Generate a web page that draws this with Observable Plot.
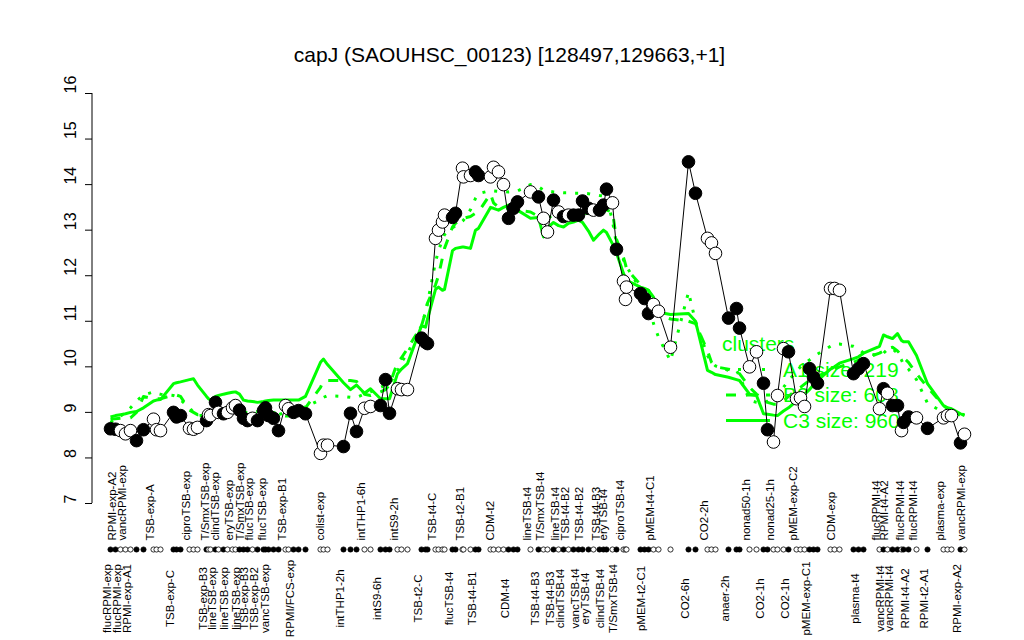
<!DOCTYPE html>
<html>
<head>
<meta charset="utf-8">
<script src="https://cdn.jsdelivr.net/npm/d3@7"></script>
<script src="https://cdn.jsdelivr.net/npm/@observablehq/plot@0.6"></script>
<style>
  html, body { margin: 0; padding: 0; background: #fff; }
  #chart { width: 1024px; height: 640px; }
  svg { font-family: "Liberation Sans", Arial, Helvetica, sans-serif; }
</style>
</head>
<body>
<div id="chart"></div>
<script>
const title = "capJ (SAOUHSC_00123) [128497,129663,+1]";

// position of each condition along the condition axis (data units)
const pos = [0,1,2,3,4,5.2,6.6,8.6,9.2,10,12.6,13.2,14,15.8,16.6,17.4,19.2,19.6,20,21,21.6,22.6,23.4,24.4,25,25.8,26.6,27.4,28.4,29.4,30.6,31,31.6,32.6,33.6,35,35.6,36.6,37.6,39,42,42.6,43.4,46.6,48,49.2,50.8,52,54,55,55.8,57.4,58.2,59.4,62.2,63,63.4,65,65.6,66.4,66.8,68.4,69,70.4,70.6,72,73,73.6,76,76.6,77.6,78.6,79.6,80.6,81.4,84,85.6,86.6,87.4,88.6,89.6,90.6,91.6,92.6,93.6,94.4,95.6,96.6,97.8,98.6,99.2,100.4,101.2,102.6,103,103.2,106,106.8,107.6,108.6,109.6,112,115.6,117,119.4,120.2,121,123.6,125.2,125.8,127.8,129.2,130.6,131.4,132.6,133.4,134.6,135.6,137.2,138,138.8,139.8,140.6,141.4,144,144.8,145.8,148.6,149.6,150.6,153.8,154.6,155.4,156.4,157.4,158.2,158.6,159.6,161.2,163.4,166.6,167.4,168.2,170,170.8];

// expression value of capJ in each condition
const expr = [8.64,8.63,8.60,8.53,8.60,8.38,8.62,8.85,8.62,8.60,9.00,8.90,8.93,8.65,8.63,8.67,8.82,8.95,8.93,9.22,9.00,8.97,9.00,9.10,9.15,9.05,8.87,8.82,8.87,8.82,9.04,9.10,8.93,8.87,8.60,9.15,9.08,9.00,9.04,8.97,8.10,8.28,8.28,8.25,8.98,8.58,9.09,9.13,9.15,9.72,8.98,9.52,9.50,9.50,10.63,10.54,10.51,12.82,13.00,13.18,13.33,13.28,13.37,14.36,14.17,14.20,14.28,14.20,14.17,14.38,14.28,14.00,13.26,13.48,13.62,13.84,13.73,13.26,12.96,13.66,13.40,13.30,13.33,13.33,13.33,13.64,13.48,13.44,13.44,13.55,13.90,13.60,12.58,11.88,11.48,11.75,11.61,11.50,11.17,11.37,11.22,10.43,14.50,13.81,12.82,12.72,12.49,11.07,11.28,10.85,10.00,10.33,9.64,8.62,8.35,9.37,10.40,10.33,9.30,9.32,9.13,9.96,9.77,9.64,11.72,11.72,11.68,9.85,9.96,10.07,9.08,9.52,9.42,9.15,9.15,8.60,8.78,8.90,8.88,8.65,8.88,8.93,8.93,8.33,8.52];

// 1 = filled marker, 0 = open marker
const filled = [1,1,0,0,0,1,1,0,0,0,1,1,1,0,0,0,1,0,0,1,0,1,0,0,0,1,1,1,0,1,1,1,1,1,1,0,0,1,1,1,0,0,0,1,1,1,0,0,1,1,1,0,0,0,1,1,1,0,0,0,0,1,1,0,0,0,1,1,0,0,0,0,1,1,1,0,1,0,0,1,0,1,0,1,1,1,1,0,1,1,1,0,1,0,0,0,1,1,1,0,0,0,1,1,0,0,0,1,1,1,0,0,1,1,0,0,0,1,0,0,0,1,1,1,0,0,0,1,1,1,0,1,0,1,1,0,1,1,0,1,0,0,0,1,0];

// cluster mean profiles
const clusterA1 = [8.78,8.85,8.92,9.00,9.10,9.25,9.38,9.45,9.42,9.40,9.37,9.35,9.28,9.10,9.00,8.92,8.95,9.00,9.02,9.05,9.05,9.03,9.05,9.08,9.10,9.05,9.00,9.00,9.02,9.02,9.05,9.05,9.03,9.00,8.95,9.00,9.02,9.05,9.08,9.12,9.28,9.33,9.37,9.35,9.33,9.33,9.40,9.45,9.55,9.60,9.63,9.90,10.10,10.30,10.90,11.20,11.40,12.30,12.55,12.80,12.90,13.05,13.10,13.20,13.22,13.45,13.70,13.80,13.87,13.86,13.85,13.85,13.84,13.85,13.86,14.00,13.95,13.88,13.86,13.84,13.83,13.82,13.82,13.81,13.81,13.81,13.80,13.78,13.76,13.75,13.73,13.20,12.70,12.35,12.25,12.20,11.70,11.62,11.55,10.95,10.65,10.13,11.64,11.00,10.25,10.10,10.02,9.92,9.92,9.80,9.27,9.22,9.20,9.25,9.32,9.40,9.55,9.70,9.90,10.00,10.08,10.15,10.22,10.28,10.45,10.50,10.50,10.45,10.40,10.30,10.25,10.30,10.38,10.40,10.30,10.15,10.05,9.95,9.72,9.20,9.00,8.98,8.96,8.95,8.95];
const clusterB2 = [8.85,8.86,8.87,8.87,8.88,9.00,9.35,9.30,9.30,9.30,9.38,9.38,9.35,9.05,9.00,8.95,8.95,8.97,9.00,9.00,9.02,9.00,9.00,9.02,9.05,9.00,8.95,8.95,8.97,8.98,9.00,9.00,9.00,9.00,8.95,8.92,8.92,8.95,9.00,9.10,9.55,9.70,9.70,9.70,9.70,9.68,9.40,9.37,9.45,9.50,9.60,10.10,10.20,10.40,10.90,11.20,11.40,11.80,12.00,12.40,12.60,13.07,13.15,13.26,13.26,13.30,13.37,13.40,13.80,13.60,13.50,13.48,13.48,13.46,13.44,13.40,13.30,13.20,13.25,13.35,13.33,13.33,13.33,13.33,13.35,13.37,13.37,13.40,13.42,13.44,13.44,13.40,12.80,12.40,12.25,12.15,11.80,11.72,11.68,11.45,11.15,11.05,11.00,10.95,10.35,10.10,10.00,9.95,9.92,9.85,9.55,9.40,9.30,9.22,9.18,9.18,9.25,9.35,9.50,9.55,9.62,9.70,9.75,9.80,9.90,9.95,10.00,10.10,10.15,10.18,10.30,10.35,10.40,10.43,10.35,10.25,10.20,10.10,9.85,9.55,9.15,9.08,9.05,8.97,8.95];
const clusterC3 = [8.90,8.93,8.95,8.97,9.00,9.02,9.10,9.25,9.27,9.28,9.63,9.65,9.67,9.72,9.74,9.60,9.35,9.30,9.27,9.35,9.37,9.40,9.42,9.44,9.45,9.40,9.27,9.25,9.24,9.22,9.24,9.25,9.26,9.27,9.27,9.27,9.27,9.27,9.27,9.35,10.10,10.17,10.05,9.65,9.50,9.60,9.42,9.52,9.30,9.30,9.30,9.85,9.95,10.07,10.90,10.87,11.05,11.70,11.75,11.68,11.70,12.55,12.60,12.63,12.63,12.60,13.00,13.04,13.50,13.48,13.44,13.50,13.55,13.48,13.44,13.26,13.28,12.85,13.05,13.17,13.10,13.07,13.15,13.18,13.22,13.17,12.98,12.78,12.92,13.00,12.95,12.70,12.50,12.05,11.95,11.90,11.75,11.72,11.68,11.53,11.20,11.15,11.17,11.00,9.92,9.88,9.83,9.77,9.72,9.70,9.40,9.37,8.97,8.96,8.94,8.93,9.03,9.10,9.25,9.32,9.40,9.50,9.60,9.70,9.95,10.00,10.08,10.18,10.22,10.30,10.45,10.70,10.66,10.62,10.73,10.58,10.55,10.55,10.25,9.63,9.15,9.10,9.08,8.97,8.93];

const clusterNames = ["A1", "B2", "C3"];
const clusterSizes = [219, 608, 960];

// condition labels: [condition index, name]
const labelsBelow = [[0,"flucRPMI-exp"],[2,"flucRPMI-exp"],[4,"RPMI-exp-A1"],[10,"TSB-exp-C"],[16,"TSB-exp-B3"],[19,"lineTSB-exp"],[22,"lineTSB-exp"],[25,"lineTSB-exp"],[27,"TSB-exp-B3"],[29,"TSB-exp-B2"],[32,"vancTSB-exp"],[37,"RPMI/FCS-exp"],[43,"intTHP1-2h"],[48,"intS9-6h"],[54,"TSB-t2-C"],[61,"flucTSB-t4"],[66,"TSB-t4-B1"],[72,"CDM-t4"],[76,"TSB-t4-B3"],[79,"TSB-t4-B3"],[81,"clindTSB-t4"],[84,"vancTSB-t4"],[86,"eryTSB-t4"],[89,"clindTSB-t4"],[92,"T/SmxTSB-t4"],[97,"pMEM-t2-C1"],[102,"CO2-6h"],[107,"anaer-2h"],[112,"CO2-1h"],[117,"CO2-1h"],[121,"pMEM-exp-C1"],[128,"plasma-t4"],[131,"vancRPMI-t4"],[133,"vancRPMI-t4"],[137,"RPMI-t4-A2"],[139,"RPMI-t2-A1"],[143,"RPMI-exp-A2"]];
const labelsAbove = [[1,"RPMI-exp-A2"],[3,"vancRPMI-exp"],[7,"TSB-exp-A"],[13,"ciproTSB-exp"],[17,"T/SmxTSB-exp"],[20,"clindTSB-exp"],[23,"eryTSB-exp"],[26,"T/SmxTSB-exp"],[28,"flucTSB-exp"],[31,"flucTSB-exp"],[35,"TSB-exp-B1"],[41,"colist-exp"],[46,"intTHP1-6h"],[51,"intS9-2h"],[57,"TSB-t4-C"],[64,"TSB-t2-B1"],[69,"CDM-t2"],[75,"lineTSB-t4"],[77,"T/SmxTSB-t4"],[80,"lineTSB-t4"],[82,"TSB-t4-B2"],[85,"TSB-t4-B2"],[88,"TSB-t4-B3"],[90,"eryTSB-t4"],[93,"ciproTSB-t4"],[99,"pMEM-t4-C1"],[104,"CO2-2h"],[110,"nonad50-1h"],[114,"nonad25-1h"],[118,"pMEM-exp-C2"],[125,"CDM-exp"],[130,"flucRPMI-t4"],[132,"RPMI-t4-A2"],[136,"flucRPMI-t4"],[138,"flucRPMI-t4"],[140,"plasma-exp"],[144,"vancRPMI-exp"]];

const yTicks = [7,8,9,10,11,12,13,14,15,16];

// ---- build tables ----
const points = pos.map((p, i) => ({pos: p, value: expr[i], filled: filled[i] === 1}));
const clusters = [clusterA1, clusterB2, clusterC3].flatMap((vals, k) =>
  vals.map((v, i) => ({pos: pos[i], value: v, cluster: clusterNames[k]})));
const below = labelsBelow.map(([i, name]) => ({pos: pos[i], name}));
const above = labelsAbove.map(([i, name]) => ({pos: pos[i], name}));

const GREEN = "#00ff00";
const dash = {A1: "3,9", B2: "10,10", C3: null};

// y-axis line drawn with the y scale
function yAxisLine(index, scales, values, dim) {
  const g = d3.create("svg:g");
  g.append("line")
    .attr("x1", dim.marginLeft).attr("x2", dim.marginLeft)
    .attr("y1", scales.y(yTicks[0])).attr("y2", scales.y(yTicks[yTicks.length - 1]))
    .attr("stroke", "#000").attr("stroke-width", 1);
  return g.node();
}

// legend (R style, inside the plot)
function legend(index, scales, values, dim) {
  const g = d3.create("svg:g").attr("fill", GREEN)
    .attr("font-size", 21).attr("text-anchor", "start")
    .attr("font-family", "Liberation Sans, Arial, sans-serif");
  const x0 = 722, y0 = 344, step = 25.5;
  g.append("text").attr("x", x0).attr("y", y0).attr("dy", "0.35em").text("clusters");
  clusterNames.forEach((name, k) => {
    const y = y0 + step * (k + 1);
    g.append("line").attr("x1", x0 + 4).attr("x2", x0 + 48).attr("y1", y).attr("y2", y)
      .attr("stroke", GREEN).attr("stroke-width", 3)
      .attr("stroke-dasharray", dash[name]);
    g.append("text").attr("x", x0 + 61).attr("y", y).attr("dy", "0.35em")
      .text(`${name} size: ${clusterSizes[k]}`);
  });
  return g.node();
}

const chart = Plot.plot({
  width: 1024,
  height: 640,
  marginLeft: 92,
  marginRight: 60,
  marginTop: 93,
  marginBottom: 137,
  style: {fontFamily: "Liberation Sans, Arial, sans-serif", background: "#fff"},
  x: {domain: [0, 170.8], insetLeft: 18, axis: null},
  y: {domain: [7, 16], axis: null},
  marks: [
    // title
    Plot.text([title], {frameAnchor: "top", dx: -19, dy: -46, fontSize: 21, fill: "#000"}),
    // y axis
    yAxisLine,
    Plot.axisY(yTicks, {anchor: "left", tickSize: 7, tickFormat: () => "", label: null, stroke: "#000"}),
    Plot.text(yTicks, {y: d => d, text: d => String(d), frameAnchor: "left", dx: -22, rotate: -90, fontSize: 16, fill: "#000"}),
    // cluster profiles
    ...clusterNames.map(name => Plot.line(clusters.filter(d => d.cluster === name), {
      x: "pos", y: "value", stroke: GREEN, strokeWidth: 3,
      strokeDasharray: dash[name], strokeLinecap: "butt", strokeLinejoin: "round"
    })),
    legend,
    // gene profile
    Plot.line(points, {x: "pos", y: "value", stroke: "#000", strokeWidth: 1}),
    Plot.dot(points, {x: "pos", y: "value", r: 6.3, fill: d => d.filled ? "#000" : "#fff", stroke: "#000", strokeWidth: 1}),
    // condition row
    Plot.dot(points, {x: "pos", frameAnchor: "bottom", dy: 46, r: 2.6, fill: d => d.filled ? "#000" : "#fff", stroke: "#000", strokeWidth: 0.8}),
    Plot.text(above, {x: "pos", text: "name", frameAnchor: "bottom", dy: 37, rotate: -90, textAnchor: "start", fontSize: 11.5, fill: "#000"}),
    Plot.text(below, {x: "pos", text: "name", frameAnchor: "bottom", dy: 95, rotate: -90, textAnchor: "middle", fontSize: 11.5, fill: "#000"})
  ]
});
document.getElementById("chart").appendChild(chart);
</script>
</body>
</html>
